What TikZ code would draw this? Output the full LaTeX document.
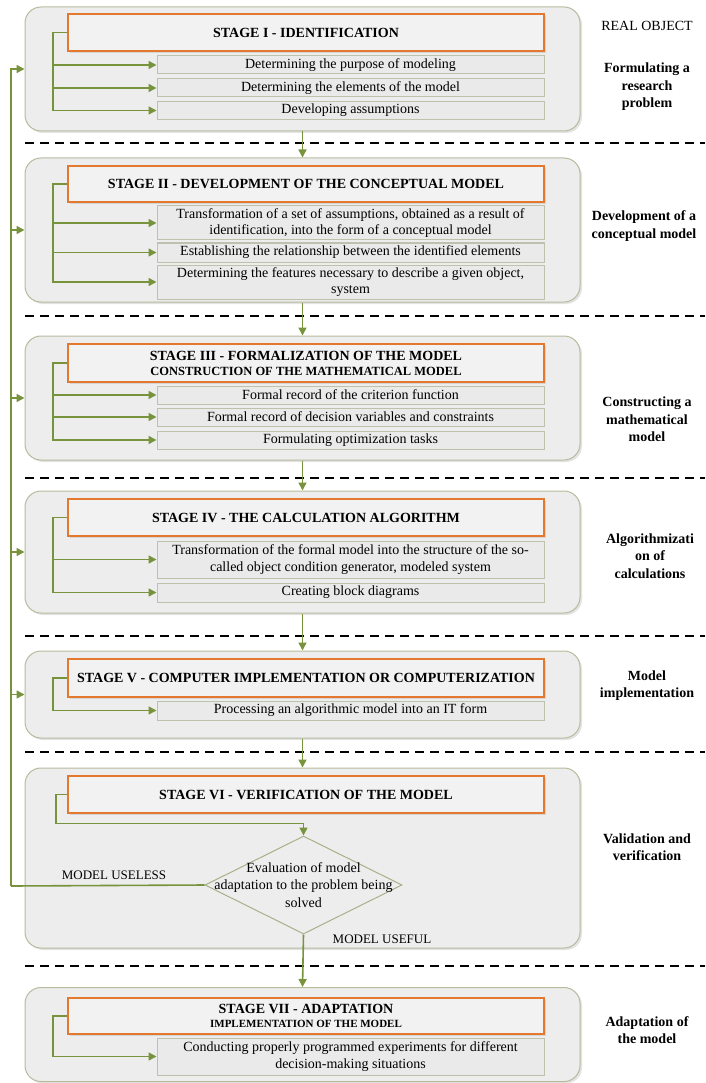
\documentclass[tikz,border=0pt]{standalone}
\usepackage{fontspec}
\setmainfont{Liberation Serif}
\usetikzlibrary{arrows.meta,shapes.geometric,shadows}
\definecolor{gr}{HTML}{77933C}
\definecolor{org}{HTML}{E4782E}
\definecolor{obd}{HTML}{B6BB9C}
\definecolor{ofl}{HTML}{EDEDED}
\definecolor{hfl}{HTML}{F2F2F2}
\definecolor{sbd}{HTML}{BEC1AC}
\definecolor{sfl}{HTML}{EAEAEA}
\definecolor{dbd}{HTML}{A9AF8A}
\begin{document}
\begin{tikzpicture}[x=1pt,y=-1pt,
  shd/.style={drop shadow={shadow xshift=2pt,shadow yshift=-2pt,opacity=.22}},
  outer/.style={draw=obd, fill=ofl, rounded corners=16pt, line width=1pt, shd, minimum width=555pt, inner sep=0pt},
  hdr/.style={draw=org, fill=hfl, line width=1.5pt, minimum width=476pt, inner sep=0pt, align=center, font=\bfseries\fontsize{14}{17}\selectfont, shd},
  sub/.style={draw=sbd, fill=sfl, line width=1pt, minimum width=387pt, inner sep=0pt, align=center, font=\fontsize{14}{16.5}\selectfont},
  lbl/.style={align=center, font=\bfseries\fontsize{14}{17.5}\selectfont},
  note/.style={font=\fontsize{13}{15}\selectfont},
  dia/.style={diamond, draw=dbd, fill=ofl, line width=1pt, minimum width=197pt, minimum height=98pt, inner sep=0pt},
  gline/.style={draw=gr, line width=1.6pt},
  conn/.style={gline, -{Triangle[length=8pt,width=8pt]}},
  dline/.style={line width=1.8pt, dash pattern=on 9pt off 6pt}]
\useasboundingbox (0,0) rectangle (705,1083);

% outer stage boxes
\node[outer, minimum height=124pt] (o1) at (302.5,69) {};
\node[outer, minimum height=144pt] (o2) at (302.5,230) {};
\node[outer, minimum height=124pt] (o3) at (302.5,398) {};
\node[outer, minimum height=122pt] (o4) at (302.5,552) {};
\node[outer, minimum height=87pt]  (o5) at (302.5,694.5) {};
\node[outer, minimum height=180pt] (o6) at (302.5,858) {};
\node[outer, minimum height=94pt]  (o7) at (302.5,1034.5) {};

% dashed separators
\coordinate (d1a) at (25,143);  \coordinate (d1b) at (705,143);
\coordinate (d2a) at (25,316);  \coordinate (d2b) at (705,316);
\coordinate (d3a) at (25,478);  \coordinate (d3b) at (705,478);
\coordinate (d4a) at (25,636);  \coordinate (d4b) at (705,636);
\coordinate (d5a) at (25,752);  \coordinate (d5b) at (705,752);
\coordinate (d6a) at (25,966);  \coordinate (d6b) at (705,966);
\foreach \i in {1,...,6} {\draw[dline] (d\i a) -- (d\i b);}

% Stage I
\node[hdr, minimum height=37pt] (h1) at (306,32.5) {STAGE I - IDENTIFICATION};
\node[sub, minimum height=18pt] (s11) at (350.5,65) {Determining the purpose of modeling};
\node[sub, minimum height=18pt] (s12) at (350.5,88) {Determining the elements of the model};
\node[sub, minimum height=18pt] (s13) at (350.5,110.5) {Developing assumptions};

% Stage II
\node[hdr, minimum height=36pt] (h2) at (306,184) {STAGE II - DEVELOPMENT OF THE CONCEPTUAL MODEL};
\node[sub, minimum height=34pt] (s21) at (350.5,223) {Transformation of a set of assumptions, obtained as a result of\\identification, into the form of a conceptual model};
\node[sub, minimum height=19pt] (s22) at (350.5,252.5) {Establishing the relationship between the identified elements};
\node[sub, minimum height=34pt] (s23) at (350.5,282) {Determining the features necessary to describe a given object,\\system};

% Stage III
\node[hdr, minimum height=38pt] (h3) at (306,363) {STAGE III - FORMALIZATION OF THE MODEL\\[-2pt]{\fontsize{12.5}{15}\selectfont CONSTRUCTION OF THE MATHEMATICAL MODEL}};
\node[sub, minimum height=18pt] (s31) at (350.5,395) {Formal record of the criterion function};
\node[sub, minimum height=18pt] (s32) at (350.5,417) {Formal record of decision variables and constraints};
\node[sub, minimum height=18pt] (s33) at (350.5,440) {Formulating optimization tasks};

% Stage IV
\node[hdr, minimum height=37pt] (h4) at (306,517.5) {STAGE IV - THE CALCULATION ALGORITHM};
\node[sub, minimum height=37pt] (s41) at (350.5,559.5) {Transformation of the formal model into the structure of the so-\\called object condition generator, modeled system};
\node[sub, minimum height=19pt] (s42) at (350.5,592.5) {Creating block diagrams};

% Stage V
\node[hdr, minimum height=38pt] (h5) at (306,678) {STAGE V - COMPUTER IMPLEMENTATION OR COMPUTERIZATION};
\node[sub, minimum height=19pt] (s51) at (350.5,710.5) {Processing an algorithmic model into an IT form};

% Stage VI
\node[hdr, minimum height=37pt] (h6) at (306,794.5) {STAGE VI - VERIFICATION OF THE MODEL};
\node[dia, label={[align=center, font=\fontsize{14}{17.5}\selectfont]center:Evaluation of model\\adaptation to the problem being\\solved}] (dd) at (303.5,885) {};
\node[note] (useless) at (114,875) {MODEL USELESS};
\node[note] (useful) at (382,939) {MODEL USEFUL};

% Stage VII
\node[hdr, minimum height=36pt] (h7) at (306,1016) {STAGE VII - ADAPTATION\\[-3pt]{\fontsize{11}{13}\selectfont IMPLEMENTATION OF THE MODEL}};
\node[sub, minimum height=37pt] (s71) at (350.5,1056.5) {Conducting properly programmed experiments for different\\decision-making situations};

% right-hand labels
\node[font=\fontsize{14}{17}\selectfont] (ro) at (647,26) {REAL OBJECT};
\node[lbl] (l1) at (647,87) {Formulating a\\research\\problem};
\node[lbl] (l2) at (644,226) {Development of a\\conceptual model};
\node[lbl] (l3) at (647,419.5) {Constructing a\\mathematical\\model};
\node[lbl] (l4) at (650,556) {Algorithmizati\\on of\\calculations};
\node[lbl] (l5) at (647,685.5) {Model\\implementation};
\node[lbl] (l6) at (647,847) {Validation and\\verification};
\node[lbl] (l7) at (647,1030) {Adaptation of\\the model};

% internal connectors
\foreach \s in {s11,s12,s13} {\draw[conn] (h1.west) -- ++(-14,0) |- (\s.west);}
\foreach \s in {s21,s22,s23} {\draw[conn] (h2.west) -- ++(-14,0) |- (\s.west);}
\foreach \s in {s31,s32,s33} {\draw[conn] (h3.west) -- ++(-14,0) |- (\s.west);}
\foreach \s in {s41,s42} {\draw[conn] (h4.west) -- ++(-14,0) |- (\s.west);}
\draw[conn] (h5.west) -- ++(-14,0) |- (s51.west);
\draw[conn] (h7.west) -- ++(-14,0) |- (s71.west);
\draw[conn] (h6.west) -- ++(-11,0) -- ++(0,29) -| (dd.north);

% stage-to-stage connectors
\draw[conn] (o1.south) -- (o2.north);
\draw[conn] (o2.south) -- (o3.north);
\draw[conn] (o3.south) -- (o4.north);
\draw[conn] (o4.south) -- (o5.north);
\draw[conn] (o5.south) -- (o6.north);
\draw[conn] (dd.south) -- (o7.north);

% feedback loop
\coordinate (fb) at (11,886);
\draw[gline] (dd.west) -- (fb);
\foreach \o in {o1,o2,o3,o4,o5} {\draw[conn] (fb) |- (\o.west);}
\end{tikzpicture}
\end{document}
